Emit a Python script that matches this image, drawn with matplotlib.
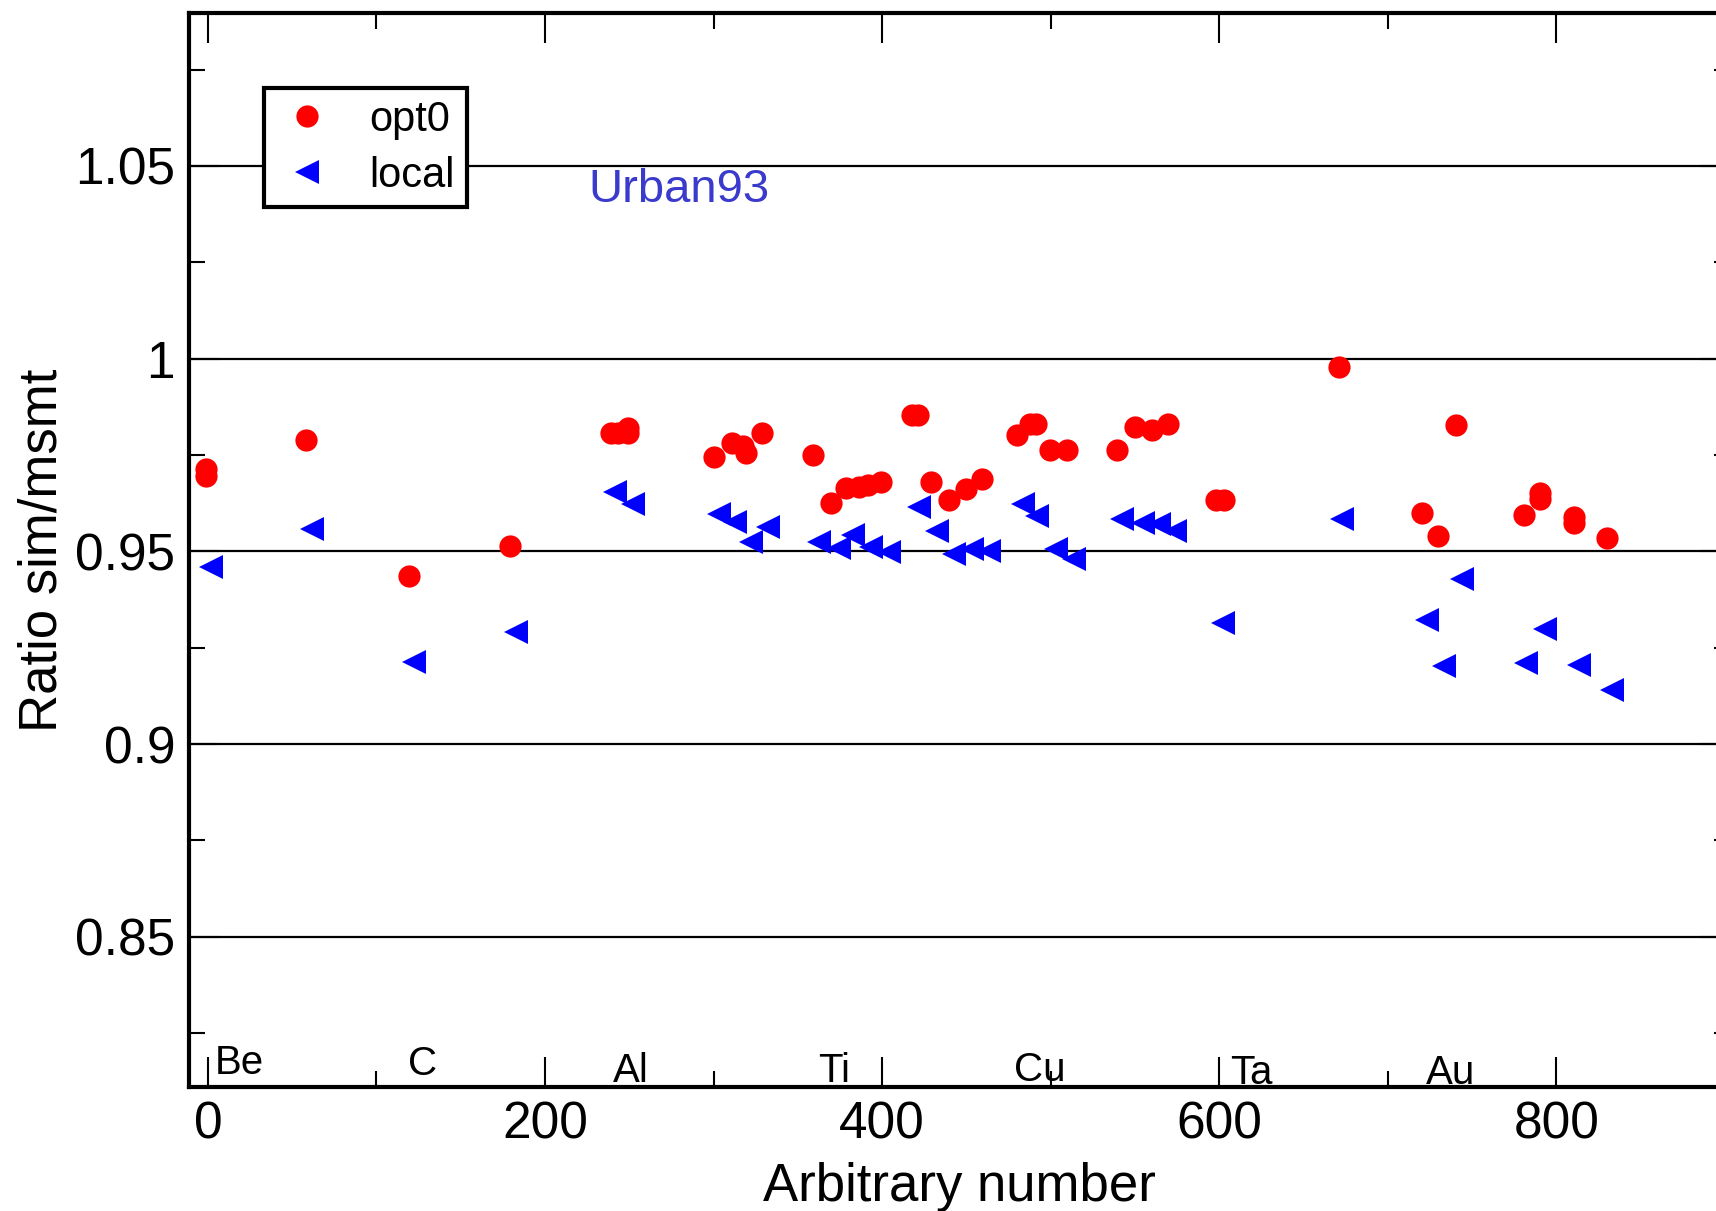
import matplotlib
matplotlib.use("Agg")
import matplotlib.pyplot as plt
from matplotlib.ticker import MultipleLocator

plt.rcParams['font.family'] = ['Liberation Sans', 'DejaVu Sans']

# opt0 physics list
opt0_x = [-1, -1, 58, 119.5, 179, 239, 243.5, 249, 249, 300, 311, 317.5, 319, 329,
          359, 369.5, 378.5, 386.5, 391.5, 399.5, 418, 421.5, 429, 439.5, 450, 459,
          480, 488, 491.5, 499.5, 509.5, 539.5, 550, 560, 569.5, 598, 603, 671,
          720, 730, 740.5, 780.5, 790, 790, 810.5, 810.5, 830]
opt0_y = [0.9713, 0.9695, 0.9789, 0.9436, 0.9515, 0.9808, 0.9808, 0.9821, 0.9808,
          0.9745, 0.9780, 0.9773, 0.9754, 0.9808, 0.9750, 0.9626, 0.9664, 0.9667,
          0.9672, 0.9681, 0.9854, 0.9854, 0.9680, 0.9633, 0.9661, 0.9687, 0.9802,
          0.9830, 0.9830, 0.9763, 0.9763, 0.9763, 0.9823, 0.9816, 0.9830, 0.9633,
          0.9633, 0.9979, 0.9599, 0.9541, 0.9828, 0.9594, 0.9652, 0.9637, 0.9588,
          0.9574, 0.9535]

# local physics list
local_x = [2, 62, 122.5, 182.5, 241.5, 252, 303, 313, 322.5, 332.5, 362.5, 374.5,
           383, 393.5, 404, 422, 432.5, 442.5, 453.5, 463.5, 483.5, 492, 503, 514,
           542.5, 554.5, 564.5, 574, 602, 673, 723, 733.5, 744, 782, 793, 813.5, 833]
local_y = [0.9459, 0.9558, 0.9212, 0.9290, 0.9654, 0.9622, 0.9596, 0.9577, 0.9524,
           0.9562, 0.9524, 0.9509, 0.9543, 0.9512, 0.9498, 0.9615, 0.9553, 0.9493,
           0.9505, 0.9500, 0.9623, 0.9592, 0.9505, 0.9479, 0.9584, 0.9573, 0.9571,
           0.9552, 0.9315, 0.9584, 0.9323, 0.9202, 0.9427, 0.9211, 0.9298, 0.9205,
           0.9140]

# target material labels along the bottom
elements = ['Be', 'C', 'Al', 'Ti', 'Cu', 'Ta', 'Au']
elem_x = [4, 118.5, 240, 362, 478.5, 606.5, 722.5]
elem_y = [0.8145, 0.8140, 0.8123, 0.8123, 0.8125, 0.8119, 0.8119]

y_grid = [0.85, 0.9, 0.95, 1.0, 1.05]

fig = plt.figure(figsize=(17.16, 12.11), dpi=100)
ax = fig.add_axes([0.11014, 0.10239, 0.89802, 0.88687])

ax.plot(opt0_x, opt0_y, 'o', ls='none', color='#ff0000', markersize=16,
        markeredgewidth=0, label='opt0', zorder=3)
ax.plot(local_x, local_y, '<', ls='none', color='#0000ff', markersize=17,
        markeredgewidth=0, label='local', zorder=3)

for g in y_grid:
    ax.axhline(g, color='black', lw=1.6, zorder=1)

ax.set_xlim(-11.2, 903)
ax.set_ylim(0.811, 1.0897)

ax.xaxis.set_major_locator(MultipleLocator(200))
ax.xaxis.set_minor_locator(MultipleLocator(100))
ax.yaxis.set_major_locator(MultipleLocator(0.05))
ax.yaxis.set_minor_locator(MultipleLocator(0.025))
ax.yaxis.set_major_formatter(plt.FuncFormatter(lambda v, p: f'{v:g}'))

ax.tick_params(which='both', direction='in', top=True, right=True, width=1.5,
               labelsize=37, pad=10)
ax.tick_params(which='major', length=21.5)
ax.tick_params(which='minor', length=11.5)

for sp in ax.spines.values():
    sp.set_linewidth(3)

ax.set_xlabel('Arbitrary number', fontsize=38, labelpad=9)
ax.set_ylabel('Ratio sim/msmt', fontsize=38)
ax.yaxis.set_label_coords(-0.079, 0.5)

for name, ex, ey in zip(elements, elem_x, elem_y):
    ax.text(ex, ey, name, fontsize=29, ha='left', va='baseline', zorder=4)

ax.text(225.5, 1.0407, 'Urban93', fontsize=34, color='#3a3acc',
        ha='left', va='baseline')

leg = ax.legend(loc='upper left', bbox_to_anchor=(0.0487, 0.930), borderaxespad=0,
                fontsize=30, fancybox=False, edgecolor='black', framealpha=1,
                borderpad=0.28, handlelength=1.5, handletextpad=0.75,
                labelspacing=0.38, numpoints=1)
leg.get_frame().set_linewidth(3)
leg.set_zorder(5)

fig.savefig('out.png', dpi=100)
